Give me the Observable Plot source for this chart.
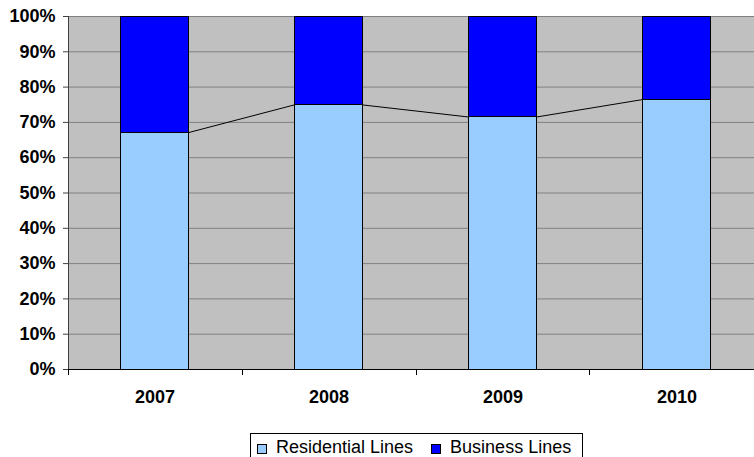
<!DOCTYPE html>
<html>
<head>
<meta charset="utf-8">
<script src="https://cdn.jsdelivr.net/npm/d3@7"></script>
<script src="https://cdn.jsdelivr.net/npm/@observablehq/plot@0.6"></script>
<style>
  html, body { margin: 0; padding: 0; background: #fff; overflow: hidden; }
  body { width: 754px; height: 457px; font-family: "Liberation Sans", Arial, sans-serif; }
  #chart { width: 754px; overflow: hidden; }
  #chart svg { display: block; max-width: none !important; height: 433px !important; }
  #legend {
    margin-left: 250px; width: 333px; height: 30px; box-sizing: border-box;
    border: 1px solid #000; padding: 4px 0 0 6px;
    display: flex; align-items: flex-start;
    font-size: 18px; line-height: 18px; color: #000;
  }
  #legend .item { display: flex; align-items: flex-start; height: 18px; }
  #legend .item + .item { margin-left: 18px; }
  #legend .swatch { width: 8px; height: 8px; border: 1px solid #000; margin: 6px 9px 0 0; }
</style>
</head>
<body>
<div id="chart"></div>
<div id="legend"></div>
<script>
// Share of access lines by year (100% stacked)
const years = ["2007", "2008", "2009", "2010"];
const residential = [0.670, 0.748, 0.714, 0.763];
const business = [0.330, 0.252, 0.286, 0.237];
const seriesNames = ["Residential Lines", "Business Lines"];
const seriesColors = ["#99CCFF", "#0000FF"];
const yTicks = [0, 0.1, 0.2, 0.3, 0.4, 0.5, 0.6, 0.7, 0.8, 0.9, 1.0];

const rows = years.flatMap((year, i) => [
  {year, series: seriesNames[0], share: residential[i]},
  {year, series: seriesNames[1], share: business[i]}
]);

const bwOf = (x) => typeof x.bandwidth === "function" ? x.bandwidth() : x.bandwidth;
const stepOf = (x) => typeof x.step === "function" ? x.step() : (x(years[1]) - x(years[0]));

// Excel-style series lines joining the tops of the residential segments
function seriesLines(index, scales) {
  const x = scales.x, y = scales.y, bw = bwOf(x);
  const g = d3.create("svg:g").attr("stroke", "#000").attr("stroke-width", 1);
  for (let i = 0; i < years.length - 1; i++) {
    g.append("line")
      .attr("x1", x(years[i]) + bw).attr("y1", y(residential[i]))
      .attr("x2", x(years[i + 1])).attr("y2", y(residential[i + 1]));
  }
  return g.node();
}

// Axis lines and category-boundary ticks
function axisFrame(index, scales, values, dims) {
  const x = scales.x, y = scales.y, bw = bwOf(x), step = stepOf(x);
  const gap = (step - bw) / 2;
  const g = d3.create("svg:g").attr("fill", "none").attr("shape-rendering", "crispEdges");
  const left = dims.marginLeft + 0.5;
  const base = Math.round(y(0)) + 0.5;
  g.append("line").attr("x1", left).attr("x2", left)
    .attr("y1", y(1)).attr("y2", base + 5).attr("stroke", "#404040");
  g.append("line").attr("x1", dims.marginLeft).attr("x2", dims.width - dims.marginRight)
    .attr("y1", base).attr("y2", base).attr("stroke", "#000");
  const bounds = years.map(yr => x(yr) - gap).concat([x(years[years.length - 1]) + bw + gap]);
  for (const b of bounds) {
    const bx = Math.round(b) + 0.5;
    g.append("line").attr("x1", bx).attr("x2", bx)
      .attr("y1", base).attr("y2", base + 5).attr("stroke", "#000");
  }
  return g.node();
}

const chart = Plot.plot({
  width: 764,
  height: 433,
  marginLeft: 68,
  marginRight: 1,
  marginTop: 16,
  marginBottom: 64,
  style: {fontFamily: "'Liberation Sans', Arial, sans-serif", color: "#000", background: "transparent"},
  x: {domain: years, paddingInner: 0.605, paddingOuter: 0.3, round: false, label: null},
  y: {domain: [0, 1], label: null},
  color: {domain: seriesNames, range: seriesColors},
  marks: [
    Plot.frame({fill: "#C0C0C0", stroke: null}),
    Plot.gridY(yTicks, {stroke: "#808080", strokeOpacity: 1, strokeWidth: 1}),
    Plot.barY(rows, {
      x: "year", y: "share", fill: "series", stroke: "#000", strokeWidth: 1,
      order: seriesNames, shapeRendering: "crispEdges"
    }),
    seriesLines,
    axisFrame,
    Plot.axisY(yTicks, {
      tickFormat: d => Math.round(d * 100) + "%",
      tickSize: 5, tickPadding: 8, fontSize: 18, fontWeight: "bold", stroke: "#404040", label: null
    }),
    Plot.axisX({tickSize: 0, tickPadding: 21, fontSize: 18, fontWeight: "bold", label: null})
  ]
});
document.getElementById("chart").append(chart);

// Legend below the plot
const legend = d3.select("#legend");
seriesNames.forEach((name, i) => {
  const item = legend.append("div").attr("class", "item");
  item.append("div").attr("class", "swatch").style("background", seriesColors[i]);
  item.append("span").text(name);
});
</script>
</body>
</html>
